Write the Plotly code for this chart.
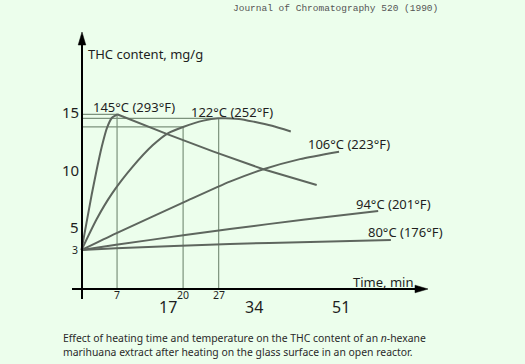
import plotly.graph_objects as go

# ---------------- data ----------------
T145 = [0, 1, 2, 3, 4, 5, 6, 7, 17, 26, 35.8, 46.3]
V145 = [3, 5.4, 7.8, 10.0, 12.0, 13.6, 14.5, 14.8, 13.05, 11.55, 10.02, 8.65]

T122 = [0, 3, 6, 10, 14, 17, 20, 24, 27, 31, 34, 37.5, 41.2]
V122 = [3, 5.7, 7.9, 10.2, 12.1, 13.15, 13.7, 14.25, 14.45, 14.4, 14.15, 13.8, 13.3]

T106 = [0, 6.8, 20.4, 29.2, 35.8, 43, 50.7]
V106 = [3, 4.45, 7.2, 8.94, 10.02, 10.9, 11.55]

T94 = [0, 6.8, 20.4, 29.2, 44, 58.4]
V94 = [3, 3.45, 4.3, 4.83, 5.65, 6.39]

T80 = [0, 6.8, 29.2, 45, 60.9]
V80 = [3, 3.15, 3.52, 3.7, 3.87]

SERIES_LABELS = ["145°C (293°F)", "122°C (252°F)", "106°C (223°F)",
                 "94°C (201°F)", "80°C (176°F)"]

# guide lines (time, THC value at that time)
GUIDE_T = [7, 20, 27]
GUIDE_V = [14.8, 13.7, 14.45]

Y_TICKS_BIG = [15, 10, 5]
Y_TICKS_SMALL = [3]
X_TICKS_SMALL = [7, 20, 27]
X_TICKS_BIG = [17, 34, 51]

TITLE = "Journal of Chromatography 520 (1990)"
Y_TITLE = "THC content, mg/g"
X_TITLE = "Time, min"
CAPTION = ("Effect of heating time and temperature on the THC content of an <i>n</i>-hexane<br>"
           "marihuana extract after heating on the glass surface in an open reactor.")

# ---------------- layout geometry ----------------
W, H = 525, 364
X0_PX, X_SCALE = 81.5, 5.08     # pixel of t=0, pixels per minute
Y0_PX, Y_SCALE = 284.5, 11.5    # pixel of v=0, pixels per mg/g
AXIS_Y_PX = 289                 # drawn x-axis line
AXIS_X_PX = 82                  # drawn y-axis line

def px(x):
    return x / W

def py(y):
    return 1 - y / H

AXIS_V = (Y0_PX - AXIS_Y_PX) / Y_SCALE

BG = "#ecfeec"
CURVE = "#5e665e"
GUIDE = "#7c927c"
TXT = "#1e1e1e"
FONT = "Noto Sans, DejaVu Sans, sans-serif"

fig = go.Figure()

# guide lines
shapes = []
for t, v in zip(GUIDE_T, GUIDE_V):
    shapes.append(dict(type="line", xref="x", yref="y", x0=0, x1=t, y0=v, y1=v,
                       line=dict(color=GUIDE, width=1.2), layer="below"))
    shapes.append(dict(type="line", xref="x", yref="y", x0=t, x1=t, y0=AXIS_V, y1=v,
                       line=dict(color=GUIDE, width=1.2), layer="below"))

# curves
def add_curve(ts, vs, shape="spline", smoothing=0.6):
    fig.add_trace(go.Scatter(x=ts, y=vs, mode="lines", hoverinfo="skip",
                             line=dict(color=CURVE, width=2, shape=shape,
                                       smoothing=smoothing)))

peak = V145.index(max(V145))
add_curve(T145[:peak + 1], V145[:peak + 1], smoothing=0.5)
add_curve(T145[peak:], V145[peak:], shape="linear")
add_curve(T122, V122)
add_curve(T106, V106)
add_curve(T94, V94)
add_curve(T80, V80)

# axes (drawn) with arrow heads
shapes.append(dict(type="line", xref="paper", yref="paper",
                   x0=px(AXIS_X_PX), x1=px(AXIS_X_PX), y0=py(299), y1=py(42),
                   line=dict(color="black", width=2)))
shapes.append(dict(type="line", xref="paper", yref="paper",
                   x0=px(72), x1=px(418), y0=py(AXIS_Y_PX), y1=py(AXIS_Y_PX),
                   line=dict(color="black", width=2)))
def tri(pts):
    d = "M " + " L ".join(f"{px(a):.5f},{py(b):.5f}" for a, b in pts) + " Z"
    return dict(type="path", xref="paper", yref="paper", path=d,
                fillcolor="black", line=dict(color="black", width=0.5))
shapes.append(tri([(AXIS_X_PX, 32), (AXIS_X_PX - 3.8, 45), (AXIS_X_PX + 3.8, 45)]))
shapes.append(tri([(428, AXIS_Y_PX), (415, AXIS_Y_PX - 3.8), (415, AXIS_Y_PX + 3.8)]))

ann = []
# y tick labels
for v in Y_TICKS_BIG:
    ann.append(dict(text=str(v), xref="paper", yref="y", x=px(80.5), y=v,
                    xanchor="right", yanchor="middle", showarrow=False,
                    font=dict(family=FONT, size=15, color=TXT)))
for v in Y_TICKS_SMALL:
    ann.append(dict(text=str(v), xref="paper", yref="y", x=px(79.5), y=v,
                    xanchor="right", yanchor="middle", showarrow=False,
                    font=dict(family=FONT, size=10.5, color=TXT)))
# x tick labels
for t in X_TICKS_SMALL:
    ann.append(dict(text=str(t), xref="x", yref="paper", x=t, y=py(295),
                    xanchor="center", yanchor="middle", showarrow=False,
                    font=dict(family=FONT, size=10.5, color=TXT)))
for t in X_TICKS_BIG:
    ann.append(dict(text=str(t), xref="x", yref="paper", x=t, y=py(307),
                    xanchor="center", yanchor="middle", showarrow=False,
                    font=dict(family=FONT, size=16, color=TXT)))

# series labels
LABEL_POS = [(10.3, 15.43), (29.6, 15.0), (52.6, 12.22), (61.4, 7.0), (63.7, 4.57)]
for txt, (t, v) in zip(SERIES_LABELS, LABEL_POS):
    ann.append(dict(text=txt, xref="x", yref="y", x=t, y=v, xanchor="center",
                    yanchor="middle", showarrow=False,
                    font=dict(family=FONT, size=13, color=TXT)))

# axis titles
ann.append(dict(text=Y_TITLE, xref="paper", yref="paper", x=px(86), y=py(54),
                xanchor="left", yanchor="middle", showarrow=False,
                font=dict(family=FONT, size=13, color=TXT)))
ann.append(dict(text=X_TITLE, xref="paper", yref="paper", x=px(383), y=py(282),
                xanchor="center", yanchor="middle", showarrow=False,
                font=dict(family=FONT, size=13, color=TXT)))
# journal reference
ann.append(dict(text=TITLE, xref="paper", yref="paper", x=px(335.5), y=py(8.5),
                xanchor="center", yanchor="middle", showarrow=False,
                font=dict(family="Liberation Mono, Courier New, monospace", size=9.5,
                          color="#555555")))
# caption
ann.append(dict(text=CAPTION, xref="paper", yref="paper", x=px(61), y=py(344.5),
                xanchor="left", yanchor="middle", align="left", showarrow=False,
                font=dict(family=FONT, size=10.4, color="#2a2a2a")))

fig.update_layout(
    width=W, height=H, autosize=False,
    margin=dict(l=0, r=0, t=0, b=0, pad=0),
    paper_bgcolor=BG, plot_bgcolor=BG,
    showlegend=False,
    xaxis=dict(visible=False, range=[(0 - X0_PX) / X_SCALE, (W - X0_PX) / X_SCALE],
               fixedrange=True),
    yaxis=dict(visible=False, range=[(Y0_PX - H) / Y_SCALE, Y0_PX / Y_SCALE],
               fixedrange=True),
    shapes=shapes, annotations=ann,
)

fig.write_html("out.html", config={"displayModeBar": False},
               post_script="document.body.style.margin='0';"
                           "document.body.style.background='" + BG + "';")
